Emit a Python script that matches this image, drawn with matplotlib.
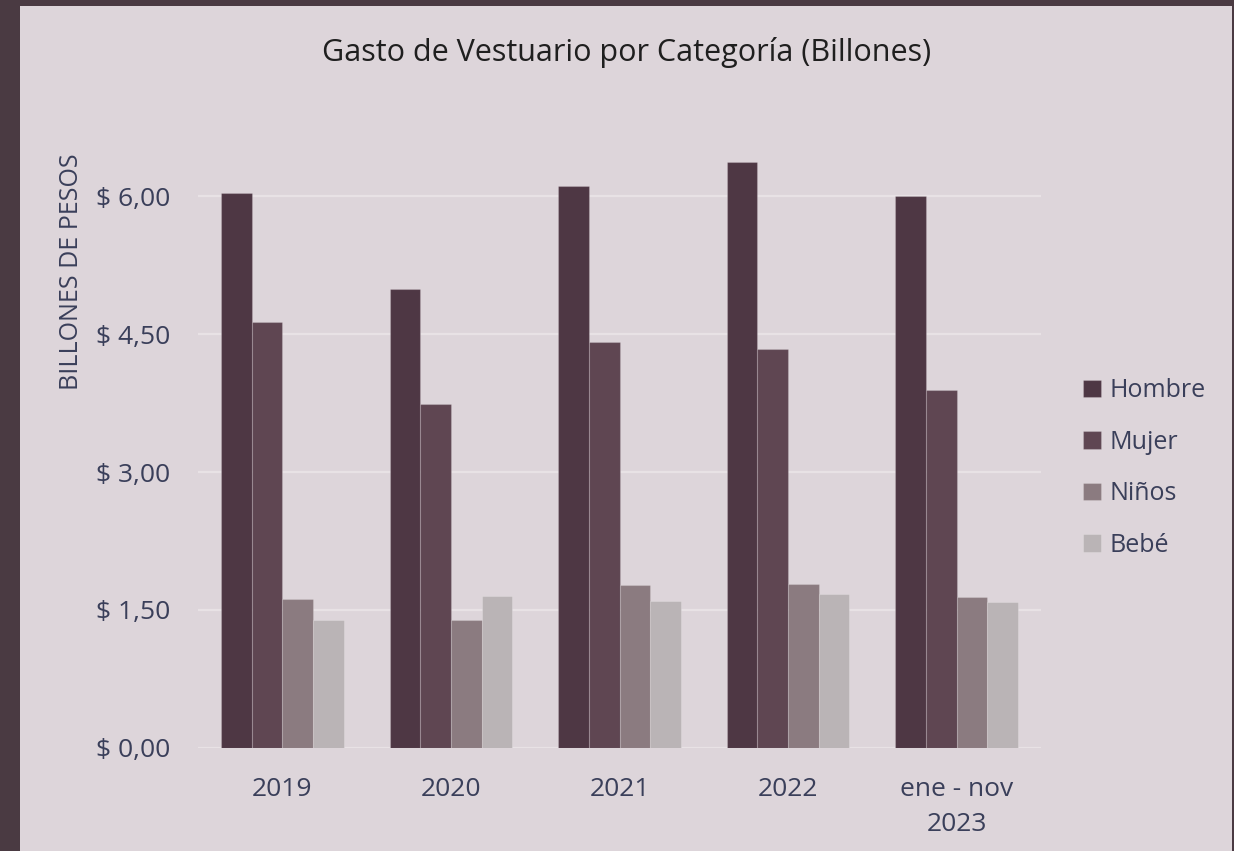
import matplotlib
matplotlib.use("Agg")
import matplotlib.pyplot as plt
import numpy as np

categories = ["2019", "2020", "2021", "2022", "ene - nov\n2023"]
series_names = ["Hombre", "Mujer", "Niños", "Bebé"]
hombre = [6.03, 4.99, 6.11, 6.37, 6.00]
mujer = [4.63, 3.74, 4.41, 4.34, 3.89]
ninos = [1.62, 1.39, 1.77, 1.78, 1.64]
bebe = [1.39, 1.65, 1.60, 1.67, 1.59]
yticks = [0, 1.5, 3.0, 4.5, 6.0]
ytick_labels = ["$ 0,00", "$ 1,50", "$ 3,00", "$ 4,50", "$ 6,00"]

colors = ["#4e3744", "#5f4652", "#8b7b80", "#bab4b6"]
bg = "#ddd5da"
frame = "#4a3a42"
txt = "#3a3f5a"
font = ["Open Sans", "DejaVu Sans"]
plt.rcParams["font.family"] = font

fig = plt.figure(figsize=(12.34, 8.51), dpi=100)
fig.patch.set_facecolor(frame)
# light panel
panel = plt.Rectangle((20/1234, 0), (1232-20)/1234, (851-6)/851, transform=fig.transFigure,
                      facecolor=bg, edgecolor="none", zorder=-10)
fig.patches.append(panel)

ax = fig.add_axes([198/1234, 1-748/851, (1041-198)/1234, 6.6*92/851])
ax.set_facecolor("none")
ax.set_zorder(2)

x = np.arange(len(categories))
w = 0.182
data = [hombre, mujer, ninos, bebe]
for i, (name, vals, c) in enumerate(zip(series_names, data, colors)):
    ax.bar(x + (i - 1.5) * w, vals, width=w, color=c, label=name,
           edgecolor=(1, 1, 1, 0.18), linewidth=0.8, zorder=3)

ax.set_xlim(-0.5, len(categories) - 0.5)
ax.set_ylim(0, 6.6)
ax.set_yticks(yticks)
ax.set_yticklabels(ytick_labels, fontsize=19, color=txt)
ax.set_xticks(x)
ax.set_xticklabels(categories, fontsize=19, color=txt, linespacing=1.5)
ax.tick_params(axis="both", length=0)
ax.tick_params(axis="y", pad=20)
ax.tick_params(axis="x", pad=21)
ax.yaxis.grid(True, color="#e8e2e5", linewidth=1.6, zorder=0)
for s in ax.spines.values():
    s.set_visible(False)

fig.text(627/1234, 1-52/851, "Gasto de Vestuario por Categoría (Billones)",
         ha="center", va="center", fontsize=22, color="#1f1f1f")
fig.text(72/1234, 1-272/851, "BILLONES DE PESOS", rotation=90, ha="center", va="center",
         fontsize=18, color=txt)

leg = fig.legend(loc="center left", bbox_to_anchor=(1073/1234, 1-468/851), frameon=False,
                 fontsize=18, handlelength=0.7, handleheight=0.7, handletextpad=0.35,
                 labelspacing=1.06, borderaxespad=0)
leg.set_zorder(5)
for t in leg.get_texts():
    t.set_color(txt)

fig.savefig("out.png", dpi=100, facecolor=fig.get_facecolor())
